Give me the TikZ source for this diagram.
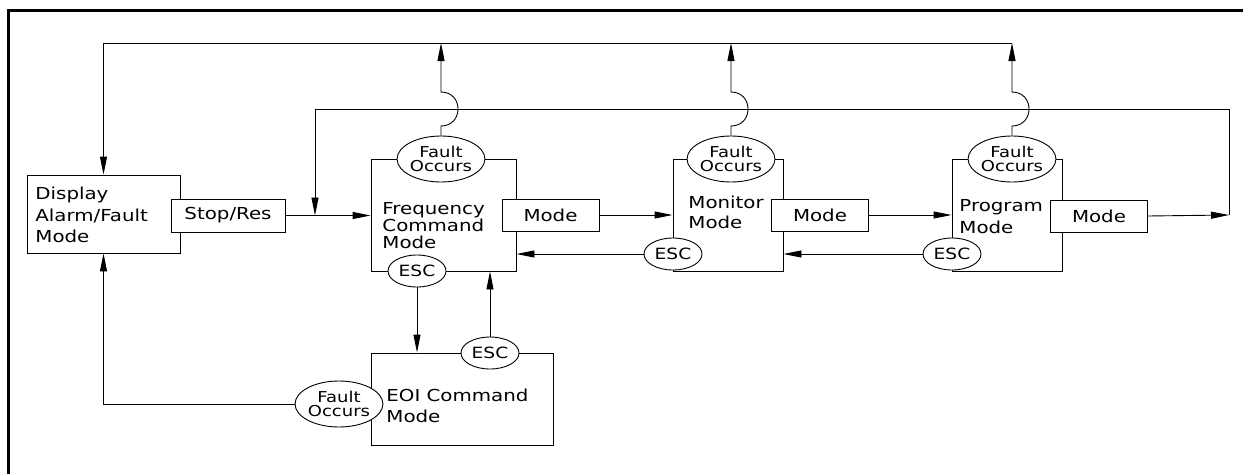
\documentclass[tikz,border=0pt]{standalone}
\usepackage{fontspec}
\usetikzlibrary{arrows.meta,shapes.geometric}
\newfontfamily\cadfont[FakeStretch=1.2]{DejaVu Sans}
\begin{document}
\begin{tikzpicture}[x=1pt,y=-1pt,
  line width=0.9pt,
  box/.style={draw,fill=white,rectangle,inner sep=0pt,font=\cadfont\fontsize{16.5}{20}\selectfont},
  modebox/.style={box,minimum width=97pt,minimum height=32pt},
  bigtxt/.style={inner sep=0pt,anchor=west,align=left,font=\cadfont\fontsize{16.5}{#1}\selectfont},
  bigtxt/.default=20,
  fault/.style={draw,fill=white,ellipse,inner sep=0pt,minimum width=83pt,minimum height=46pt,align=center,font=\cadfont\fontsize{15}{14}\selectfont},
  esc/.style={draw,fill=white,ellipse,inner sep=0pt,minimum width=58pt,minimum height=32pt,font=\cadfont\fontsize{15.5}{15}\selectfont},
  arr/.style={-{Triangle[length=18pt,width=7pt]}},
  frame/.style={line width=3pt}
]
\useasboundingbox (0,0) rectangle (1243,474);
\draw[frame] (8.5,474) -- (8.5,10.5) -- (1243,10.5);

% main boxes
\node[box,minimum width=153pt,minimum height=78pt] (disp) at (103.5,214) {};
\node[bigtxt=21.5] (disptxt) at (35,215) {Display\\Alarm/Fault\\Mode};
\node[box,minimum width=114pt,minimum height=33pt] (stop) at (228,215.5) {Stop/Res};

\node[box,minimum width=145pt,minimum height=112pt] (freq) at (443.5,215) {};
\node[bigtxt=17] (freqtxt) at (382,225.5) {Frequency\\Command\\Mode};
\node[modebox] (fmode) at (550.5,215) {Mode};

\node[box,minimum width=110pt,minimum height=112pt] (mon) at (728,215) {};
\node[bigtxt=20] (montxt) at (688,212.5) {Monitor\\Mode};
\node[modebox] (mmode) at (820,215) {Mode};

\node[box,minimum width=110pt,minimum height=112pt] (prog) at (1007,215) {};
\node[bigtxt=21.5] (progtxt) at (959,216.5) {Program\\Mode};
\node[modebox] (pmode) at (1099,216) {Mode};

\node[box,minimum width=182pt,minimum height=92pt] (eoi) at (462,399) {};
\node[bigtxt=20.5] (eoitxt) at (386,406) {EOI Command\\Mode};

% ovals
\node[fault] (ffault) at (441,159) {Fault\\Occurs};
\node[fault] (mfault) at (731,159) {Fault\\Occurs};
\node[fault] (pfault) at (1012,159) {Fault\\Occurs};
\node[fault] (efault) at (339,404) {Fault\\Occurs};
\node[esc] (fesc) at (417,271) {ESC};
\node[esc] (mesc) at (673,254) {ESC};
\node[esc] (pesc) at (952,254) {ESC};
\node[esc] (eesc) at (490,353) {ESC};

% helper coordinates
\coordinate (t1) at (441,43);
\coordinate (t2) at (731,43);
\coordinate (t3) at (1012,43);
\coordinate (rc) at (1229,215);
\coordinate (sj) at (315,215.5);

% forward chain
\draw[arr] (stop.east) -- (freq.west |- stop.east);
\draw[arr] (fmode.east) -- (mon.west |- fmode.east);
\draw[arr] (mmode.east) -- (prog.west |- mmode.east);
\draw[arr] (pmode.east) -- (rc);
\draw[arr] (rc) -- (1229,109) -- (315,109) -- (sj);

% escape returns
\draw[arr] (mesc.west) -- (freq.east |- mesc.west);
\draw[arr] (pesc.west) -- (mon.east |- pesc.west);
\draw[arr] (fesc.south) -- (fesc.south |- eoi.north);
\draw[arr] (eesc.north) -- (eesc.north |- freq.south);

% fault paths with hop-overs
\draw[arr] (ffault.north) -- (441,126) .. controls (463.7,126) and (463.7,92) .. (441,92) -- (t1);
\draw[arr] (mfault.north) -- (731,126) .. controls (753.7,126) and (753.7,92) .. (731,92) -- (t2);
\draw[arr] (pfault.north) -- (1012,126) .. controls (1034.7,126) and (1034.7,92) .. (1012,92) -- (t3);
\draw[arr] (t3) -- (disp.north |- t3) -- (disp.north);
\draw[arr] (efault.west) -- (disp.south |- efault.west) -- (disp.south);
\end{tikzpicture}
\end{document}
